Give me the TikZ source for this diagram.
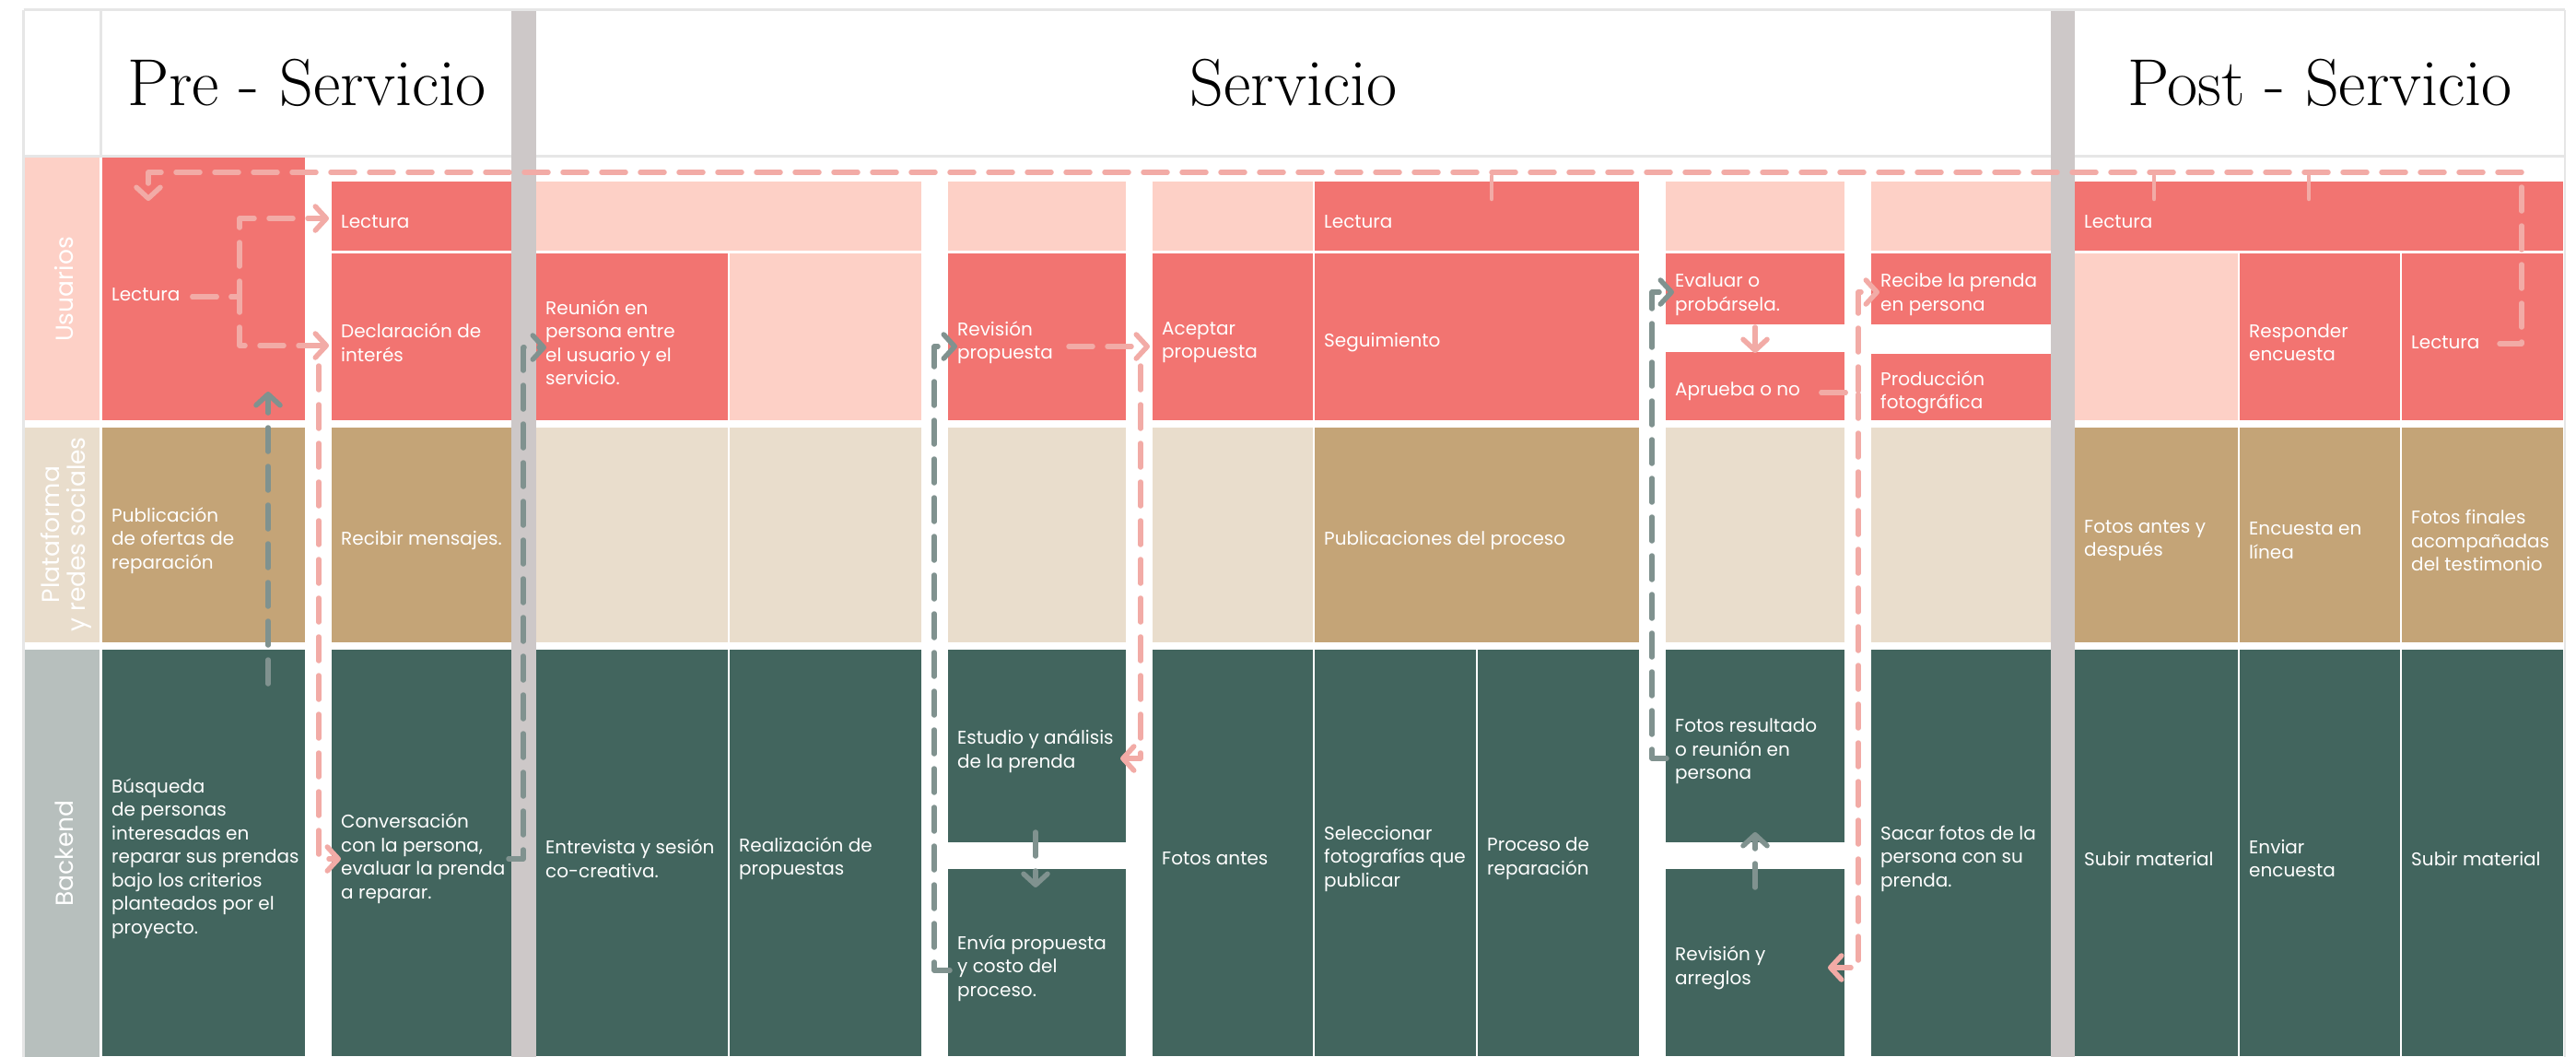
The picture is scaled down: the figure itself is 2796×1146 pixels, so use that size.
\documentclass[tikz,border=0pt]{standalone}
\usepackage{fontspec}
\newfontfamily\bodyf{Poppins}
\usetikzlibrary{arrows.meta}
\definecolor{cred}{HTML}{F27471}
\definecolor{clpink}{HTML}{FDD0C6}
\definecolor{ctan}{HTML}{C4A477}
\definecolor{cbeige}{HTML}{E9DDCC}
\definecolor{cgreen}{HTML}{42655E}
\definecolor{cbk}{HTML}{B7BFBD}
\definecolor{cbar}{HTML}{CDC8C8}
\definecolor{cdpink}{HTML}{F2ABA6}
\definecolor{cdgray}{HTML}{80928F}
\definecolor{cframe}{HTML}{E6E6E6}
\tikzset{
  txt/.style={text=white, font=\bodyf\fontsize{20}{25.5}\selectfont, align=left, inner sep=0pt},
  lbl/.style={text=white, font=\bodyf\fontsize{26.5}{28}\selectfont, align=center, inner sep=0pt},
  ttl/.style={text=black, font=\fontsize{72}{76}\selectfont, inner sep=0pt},
  pk/.style={draw=cdpink, line width=5.5pt, dash pattern=on 26pt off 16pt, line cap=round, line join=round},
  gy/.style={draw=cdgray, line width=5.5pt, dash pattern=on 26pt off 16pt, line cap=round, line join=round},
  pkline/.style={draw=cdpink, line width=5.5pt, line cap=round, line join=round},
  pktick/.style={draw=cdpink, line width=4.5pt, line cap=round},
  tip/.style={-{Straight Barb[length=12pt,width=26pt,round]}},
  frameline/.style={draw=cframe, line width=2.5pt},
}
\newcommand\cellbox[7]{%
  \fill[#6] (#2,#3) rectangle (#4,#5);
  \node[txt, anchor=west] (#1) at ({#2+10},{(#3+#5)/2+6}) {#7};}
\begin{document}
\begin{tikzpicture}[x=1pt,y=-1pt]
\useasboundingbox (0,0) rectangle (2796,1146);
\clip (0,0) rectangle (2796,1146);
\fill[white] (0,0) rectangle (2796,1146);
% frame
\draw[frameline] (25.5,10.5) -- (2784,10.5);
\draw[frameline] (25.5,10.5) -- (25.5,1160);
\draw[frameline] (2784,10.5) -- (2784,1160);
\draw[frameline] (25.5,169.5) -- (2784,169.5);
\draw[frameline] (109.5,10.5) -- (109.5,169.5);
% titles
\node[ttl] (pre) at (333,90) {Pre - Servicio};
\node[ttl] (serv) at (1404,90) {Servicio};
\node[ttl] (post) at (2518,90) {Post - Servicio};
% lane labels
\fill[clpink] (27,171) rectangle (108,456);
\fill[cbeige] (27,464) rectangle (108,697);
\fill[cbk] (27,705) rectangle (108,1160);
\node[lbl, rotate=90] (lu) at (70,314) {Usuarios};
\node[lbl, rotate=90] (lp) at (72,580) {Plataforma\\y redes sociales};
\node[lbl, rotate=90] (lb) at (70,926) {Backend};
% Usuarios row
\cellbox{u1}{111}{171}{331}{456}{cred}{Lectura}
\cellbox{u2t}{360}{197}{555}{272}{cred}{Lectura}
\cellbox{u2}{360}{275}{555}{456}{cred}{Declaración de\\interés}
\cellbox{u34t}{582}{197}{1000}{272}{clpink}{}
\cellbox{u3}{582}{275}{790}{456}{cred}{Reunión en\\persona entre\\el usuario y el\\servicio.}
\cellbox{u4}{792}{275}{1000}{456}{clpink}{}
\cellbox{u5t}{1029}{197}{1222}{272}{clpink}{}
\cellbox{u5}{1029}{275}{1222}{456}{cred}{Revisión\\propuesta}
\cellbox{u6t}{1251}{197}{1425}{272}{clpink}{}
\cellbox{u6}{1251}{275}{1425}{456}{cred}{Aceptar\\propuesta}
\cellbox{u78t}{1427}{197}{1779}{272}{cred}{Lectura}
\cellbox{u78}{1427}{275}{1779}{456}{cred}{Seguimiento}
\cellbox{u9t}{1808}{197}{2002}{272}{clpink}{}
\cellbox{u9a}{1808}{275}{2002}{352}{cred}{Evaluar o\\probársela.}
\cellbox{u9b}{1808}{382}{2002}{456}{cred}{Aprueba o no}
\cellbox{u10t}{2031}{197}{2226}{272}{clpink}{}
\cellbox{u10a}{2031}{275}{2226}{352}{cred}{Recibe la prenda\\en persona}
\cellbox{u10b}{2031}{384}{2226}{456}{cred}{Producción\\fotográfica}
\cellbox{u1113t}{2252}{197}{2782}{272}{cred}{Lectura}
\cellbox{u11}{2252}{275}{2429}{456}{clpink}{}
\cellbox{u12}{2431}{275}{2605}{456}{cred}{Responder\\encuesta}
\cellbox{u13}{2607}{275}{2782}{456}{cred}{Lectura}
% Plataforma row
\cellbox{p1}{111}{464}{331}{697}{ctan}{Publicación\\de ofertas de\\reparación}
\cellbox{p2}{360}{464}{555}{697}{ctan}{Recibir mensajes.}
\cellbox{p3}{582}{464}{790}{697}{cbeige}{}
\cellbox{p4}{792}{464}{1000}{697}{cbeige}{}
\cellbox{p5}{1029}{464}{1222}{697}{cbeige}{}
\cellbox{p6}{1251}{464}{1425}{697}{cbeige}{}
\cellbox{p78}{1427}{464}{1779}{697}{ctan}{Publicaciones del proceso}
\cellbox{p9}{1808}{464}{2002}{697}{cbeige}{}
\cellbox{p10}{2031}{464}{2226}{697}{cbeige}{}
\cellbox{p11}{2252}{464}{2429}{697}{ctan}{Fotos antes y\\después}
\cellbox{p12}{2431}{464}{2605}{697}{ctan}{Encuesta en\\línea}
\cellbox{p13}{2607}{464}{2782}{697}{ctan}{Fotos finales\\acompañadas\\del testimonio}
% Backend row
\cellbox{b1}{111}{705}{331}{1146}{cgreen}{Búsqueda\\de personas\\interesadas en\\reparar sus prendas\\bajo los criterios\\planteados por el\\proyecto.}
\cellbox{b2}{360}{705}{555}{1146}{cgreen}{Conversación\\con la persona,\\evaluar la prenda\\a reparar.}
\cellbox{b3}{582}{705}{790}{1146}{cgreen}{Entrevista y sesión\\co-creativa.}
\cellbox{b4}{792}{705}{1000}{1146}{cgreen}{Realización de\\propuestas}
\cellbox{b5a}{1029}{705}{1222}{914}{cgreen}{Estudio y análisis\\de la prenda}
\cellbox{b5b}{1029}{943}{1222}{1146}{cgreen}{Envía propuesta\\y costo del\\proceso.}
\cellbox{b6}{1251}{705}{1425}{1146}{cgreen}{Fotos antes}
\cellbox{b7}{1427}{705}{1602}{1146}{cgreen}{Seleccionar\\fotografías que\\publicar}
\cellbox{b8}{1604}{705}{1779}{1146}{cgreen}{Proceso de\\reparación}
\cellbox{b9a}{1808}{705}{2002}{914}{cgreen}{Fotos resultado\\o reunión en\\persona}
\cellbox{b9b}{1808}{943}{2002}{1146}{cgreen}{Revisión y\\arreglos}
\cellbox{b10}{2031}{705}{2226}{1146}{cgreen}{Sacar fotos de la\\persona con su\\prenda.}
\cellbox{b11}{2252}{705}{2429}{1146}{cgreen}{Subir material}
\cellbox{b12}{2431}{705}{2605}{1146}{cgreen}{Enviar\\encuesta}
\cellbox{b13}{2607}{705}{2782}{1146}{cgreen}{Subir material}
% phase separator bars
\fill[cbar] (555,12) rectangle (582,1160);
\fill[cbar] (2226,12) rectangle (2252,1160);
% connector points
\path (2713,373) coordinate (a1) (2737,373) coordinate (a2) (2737,187) coordinate (a3)
      (161,187) coordinate (a4) (161,218) coordinate (a5);
\path (1619,191) coordinate (t1a) (1619,216) coordinate (t1b)
      (2338,191) coordinate (t2a) (2338,216) coordinate (t2b)
      (2506,191) coordinate (t3a) (2506,216) coordinate (t3b);
\path (209,322) coordinate (b0) (260,322) coordinate (bb1) (260,237) coordinate (bb2)
      (357,237) coordinate (bb3) (260,375) coordinate (bb4) (357,375) coordinate (bb5);
\path (346,397) coordinate (c0) (346,932) coordinate (c1) (370,932) coordinate (c2);
\path (1160,376) coordinate (d0) (1248,376) coordinate (d1);
\path (1238,397) coordinate (e0) (1238,823) coordinate (e1) (1216,823) coordinate (e2);
\path (1905,355) coordinate (f0) (1905,383) coordinate (f1);
\path (1977,426) coordinate (g0) (2017,426) coordinate (g1) (2017,317) coordinate (g2)
      (2040,317) coordinate (g3) (2017,1050) coordinate (g4) (1984,1050) coordinate (g5);
\path (291,742) coordinate (h0) (291,425) coordinate (h1);
\path (552,932) coordinate (i0) (568,932) coordinate (i1) (568,377) coordinate (i2) (593,377) coordinate (i3);
\path (1031,1053) coordinate (j0) (1014,1053) coordinate (j1) (1014,376) coordinate (j2) (1039,376) coordinate (j3);
\path (1124,903) coordinate (k0) (1124,963) coordinate (k1);
\path (1809,823) coordinate (l0) (1793,823) coordinate (l1) (1793,317) coordinate (l2) (1817,317) coordinate (l3);
\path (1905,963) coordinate (m0) (1905,903) coordinate (m1);
% pink connectors
\draw[pk,tip] (a1) -- (a2) -- (a3) -- (a4) -- (a5);
\draw[pktick] (t1a) -- (t1b);
\draw[pktick] (t2a) -- (t2b);
\draw[pktick] (t3a) -- (t3b);
\draw[pk,tip] (b0) -- (bb1) -- (bb2) -- (bb3);
\draw[pk,tip] (b0) -- (bb1) -- (bb4) -- (bb5);
\draw[pk,tip] (c0) -- (c1) -- (c2);
\draw[pk,tip] (d0) -- (d1);
\draw[pk,tip] (e0) -- (e1) -- (e2);
\draw[pkline,tip] (f0) -- (f1);
\draw[pk,tip] (g0) -- (g1) -- (g2) -- (g3);
\draw[pk,tip] (g0) -- (g1) -- (g4) -- (g5);
% gray connectors
\draw[gy,tip] (h0) -- (h1);
\draw[gy,tip] (i0) -- (i1) -- (i2) -- (i3);
\draw[gy,tip] (j0) -- (j1) -- (j2) -- (j3);
\draw[gy,tip] (k0) -- (k1);
\draw[gy,tip] (l0) -- (l1) -- (l2) -- (l3);
\draw[gy,tip] (m0) -- (m1);
\end{tikzpicture}
\end{document}
